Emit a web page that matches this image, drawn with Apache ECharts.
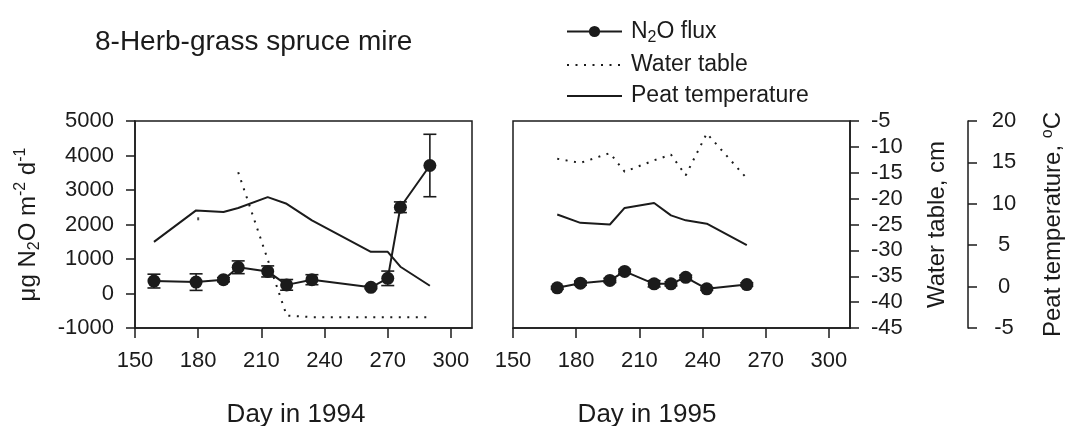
<!DOCTYPE html>
<html><head><meta charset="utf-8">
<script src="https://cdn.jsdelivr.net/npm/echarts@6/dist/echarts.min.js"></script>
<style>html,body{margin:0;padding:0;background:#fff}#c{width:1066px;height:426px}</style>
</head><body><div id="c"></div>
<script>
// ---- data ----
const xTicks = [150, 180, 210, 240, 270, 300];

const days1994 = [159, 179, 192, 199, 213, 222, 234, 262, 270, 276, 290];
const flux1994 = [360, 330, 400, 760, 640, 250, 400, 180, 440, 2500, 3710];
const fluxErr1994 = [200, 240, 60, 185, 160, 155, 145, 40, 210, 155, 905];
const temp1994 = [5.4, 9.2, 9.0, 9.5, 10.8, 10.0, 8.0, 4.2, 4.2, 2.4, 0.1];
const waterDays1994 = [199, 222, 234, 262, 270, 276, 290];
const water1994 = [-14.9, -42.6, -42.9, -42.9, -42.9, -42.9, -42.9];
const waterIsoDay1994 = [180];
const waterIso1994 = [-23.9];

const days1995 = [171, 182, 196, 203, 217, 225, 232, 242, 261];
const flux1995 = [165, 300, 380, 640, 280, 280, 470, 135, 260];
const fluxErr1995 = [40, 60, 60, 60, 90, 60, 60, 40, 50];
const temp1995 = [8.7, 7.7, 7.5, 9.5, 10.1, 8.6, 8.0, 7.6, 5.0];
const water1995 = [-12.3, -13.1, -11.2, -14.8, -12.6, -11.5, -15.5, -7.4, -16.1];

// ---- helpers ----
const FONT = 'Liberation Sans';
const INK = '#1b1b1b';
const zip = (a, b) => a.map((v, i) => [v, b[i]]);
const errData = (d, v, e) => d.map((x, i) => [x, v[i] - e[i], v[i] + e[i]]);

function renderErr(params, api) {
  const x = api.value(0), lo = api.value(1), hi = api.value(2);
  const p1 = api.coord([x, lo]), p2 = api.coord([x, hi]);
  const w = 6.5;
  const st = { stroke: INK, lineWidth: 1.6 };
  return { type: 'group', children: [
    { type: 'line', shape: { x1: p1[0], y1: p1[1], x2: p2[0], y2: p2[1] }, style: st },
    { type: 'line', shape: { x1: p1[0] - w, y1: p1[1], x2: p1[0] + w, y2: p1[1] }, style: st },
    { type: 'line', shape: { x1: p2[0] - w, y1: p2[1], x2: p2[0] + w, y2: p2[1] }, style: st }
  ]};
}

const axisLine = { show: true, onZero: false, lineStyle: { color: INK, width: 1.5 } };
const lbl = { color: INK, fontSize: 22, fontFamily: FONT, formatter: v => String(v) };

function xAx(gi) {
  return {
    type: 'value', gridIndex: gi, min: 150, max: 310, interval: 30,
    axisLine: axisLine,
    axisTick: { show: true, inside: false, length: 10, lineStyle: { color: INK, width: 1.5 }, customValues: xTicks },
    axisLabel: Object.assign({ margin: 22, customValues: xTicks }, lbl),
    splitLine: { show: false }
  };
}

const hiddenY = (gi, min, max, interval) => ({
  type: 'value', gridIndex: gi, min: min, max: max, interval: interval, show: false,
  axisLine: { show: false, onZero: false },
  splitLine: { show: false }
});

const option = {
  animation: false,
  backgroundColor: '#fff',
  textStyle: { fontFamily: FONT, color: INK },
  grid: [
    { left: 135, top: 121, width: 337, height: 207, show: true, borderColor: INK, borderWidth: 1.5, backgroundColor: 'transparent', containLabel: false, outerBoundsMode: 'none' },
    { left: 513, top: 121, width: 337, height: 207, show: true, borderColor: INK, borderWidth: 1.5, backgroundColor: 'transparent', containLabel: false, outerBoundsMode: 'none' }
  ],
  xAxis: [xAx(0), xAx(1)],
  yAxis: [
    { type: 'value', gridIndex: 0, min: -1000, max: 5000, interval: 1000, position: 'left',
      axisLine: axisLine,
      axisTick: { show: true, inside: false, length: 9, lineStyle: { color: INK, width: 1.5 } },
      axisLabel: Object.assign({ margin: 21 }, lbl),
      splitLine: { show: false },
      name: '{a|μg N}{s|2}{a|O m}{p|-2}{a| d}{p|-1}',
      nameLocation: 'middle', nameRotate: 90, nameGap: 92, nameMoveOverlap: false,
      nameTextStyle: { fontFamily: FONT, color: INK, rich: {
        a: { fontSize: 24, lineHeight: 30, fontFamily: FONT, color: INK },
        s: { fontSize: 16, lineHeight: 8, verticalAlign: 'bottom', fontFamily: FONT, color: INK },
        p: { fontSize: 16, lineHeight: 14, verticalAlign: 'top', fontFamily: FONT, color: INK }
      } }
    },
    hiddenY(0, -45, -5, 5),
    hiddenY(0, -5, 20, 5),
    hiddenY(1, -1000, 5000, 1000),
    { type: 'value', gridIndex: 1, min: -45, max: -5, interval: 5, position: 'right', offset: 0,
      axisLine: axisLine,
      axisTick: { show: true, inside: false, length: 9, lineStyle: { color: INK, width: 1.5 } },
      axisLabel: Object.assign({ margin: 21 }, lbl),
      splitLine: { show: false },
      name: 'Water table, cm', nameLocation: 'middle', nameRotate: 90, nameGap: 75, nameMoveOverlap: false,
      nameTextStyle: { fontSize: 24, fontFamily: FONT, color: INK }
    },
    { type: 'value', gridIndex: 1, min: -5, max: 20, interval: 5, position: 'right', offset: 118,
      axisLine: axisLine,
      axisTick: { show: true, inside: false, length: 9, lineStyle: { color: INK, width: 1.5 } },
      axisLabel: Object.assign({ margin: 36, align: 'center' }, lbl),
      splitLine: { show: false },
      name: '{a|Peat temperature, }{p|o}{a|C}', nameLocation: 'middle', nameRotate: 90, nameGap: 72, nameMoveOverlap: false,
      nameTextStyle: { fontFamily: FONT, color: INK, rich: {
        a: { fontSize: 24, lineHeight: 26, fontFamily: FONT, color: INK },
        p: { fontSize: 16, lineHeight: 14, verticalAlign: 'top', fontFamily: FONT, color: INK }
      } }
    }
  ],
  legend: {
    data: [
      { name: 'N2O flux' },
      { name: 'Water table', itemStyle: { opacity: 0 } },
      { name: 'Peat temperature', itemStyle: { opacity: 0 } }
    ],
    orient: 'vertical', left: 561, top: 15, itemWidth: 55, itemHeight: 14, itemGap: 8,
    selectedMode: false,
    textStyle: { fontSize: 23, fontFamily: FONT, color: INK, padding: [0, 0, 0, 4],
      rich: {
        a: { fontSize: 23, lineHeight: 28, fontFamily: FONT, color: INK },
        s: { fontSize: 16, lineHeight: 8, verticalAlign: 'bottom', fontFamily: FONT, color: INK }
      } },
    formatter: n => n === 'N2O flux' ? '{a|N}{s|2}{a|O flux}' : '{a|' + n + '}'
  },
  graphic: [
    { type: 'text', x: 95, y: 42, style: { text: '8-Herb-grass spruce mire', fontSize: 28, fontFamily: FONT, fill: INK, align: 'left', verticalAlign: 'middle' } },
    { type: 'text', x: 296, y: 415, style: { text: 'Day in 1994', fontSize: 26, fontFamily: FONT, fill: INK, align: 'center', verticalAlign: 'middle' } },
    { type: 'text', x: 647, y: 415, style: { text: 'Day in 1995', fontSize: 26, fontFamily: FONT, fill: INK, align: 'center', verticalAlign: 'middle' } }
  ],
  series: [
    { name: 'N2O flux', type: 'line', xAxisIndex: 0, yAxisIndex: 0, data: zip(days1994, flux1994),
      symbol: 'circle', symbolSize: 13, itemStyle: { color: INK }, lineStyle: { color: INK, width: 2 }, z: 4 },
    { type: 'custom', xAxisIndex: 0, yAxisIndex: 0, data: errData(days1994, flux1994, fluxErr1994),
      renderItem: renderErr, encode: { x: 0, y: [1, 2] }, z: 3, silent: true },
    { name: 'Water table', type: 'line', xAxisIndex: 0, yAxisIndex: 1, data: zip(waterDays1994, water1994),
      symbol: 'none', itemStyle: { color: INK }, lineStyle: { color: INK, width: 2, type: [2, 6.5], cap: 'butt' } },
    { type: 'scatter', xAxisIndex: 0, yAxisIndex: 1, data: zip(waterIsoDay1994, waterIso1994),
      symbol: 'rect', symbolSize: [2, 3], itemStyle: { color: INK }, silent: true },
    { name: 'Peat temperature', type: 'line', xAxisIndex: 0, yAxisIndex: 2, data: zip(days1994, temp1994),
      symbol: 'none', itemStyle: { color: INK }, lineStyle: { color: INK, width: 2 } },

    { name: 'N2O flux', type: 'line', xAxisIndex: 1, yAxisIndex: 3, data: zip(days1995, flux1995),
      symbol: 'circle', symbolSize: 13, itemStyle: { color: INK }, lineStyle: { color: INK, width: 2 }, z: 4 },
    { type: 'custom', xAxisIndex: 1, yAxisIndex: 3, data: errData(days1995, flux1995, fluxErr1995),
      renderItem: renderErr, encode: { x: 0, y: [1, 2] }, z: 3, silent: true },
    { name: 'Water table', type: 'line', xAxisIndex: 1, yAxisIndex: 4, data: zip(days1995, water1995),
      symbol: 'none', itemStyle: { color: INK }, lineStyle: { color: INK, width: 2, type: [2, 6.5], cap: 'butt' } },
    { name: 'Peat temperature', type: 'line', xAxisIndex: 1, yAxisIndex: 5, data: zip(days1995, temp1995),
      symbol: 'none', itemStyle: { color: INK }, lineStyle: { color: INK, width: 2 } }
  ]
};

const chart = echarts.init(document.getElementById('c'), null, { renderer: 'canvas' });
chart.setOption(option);
</script>
</body></html>
